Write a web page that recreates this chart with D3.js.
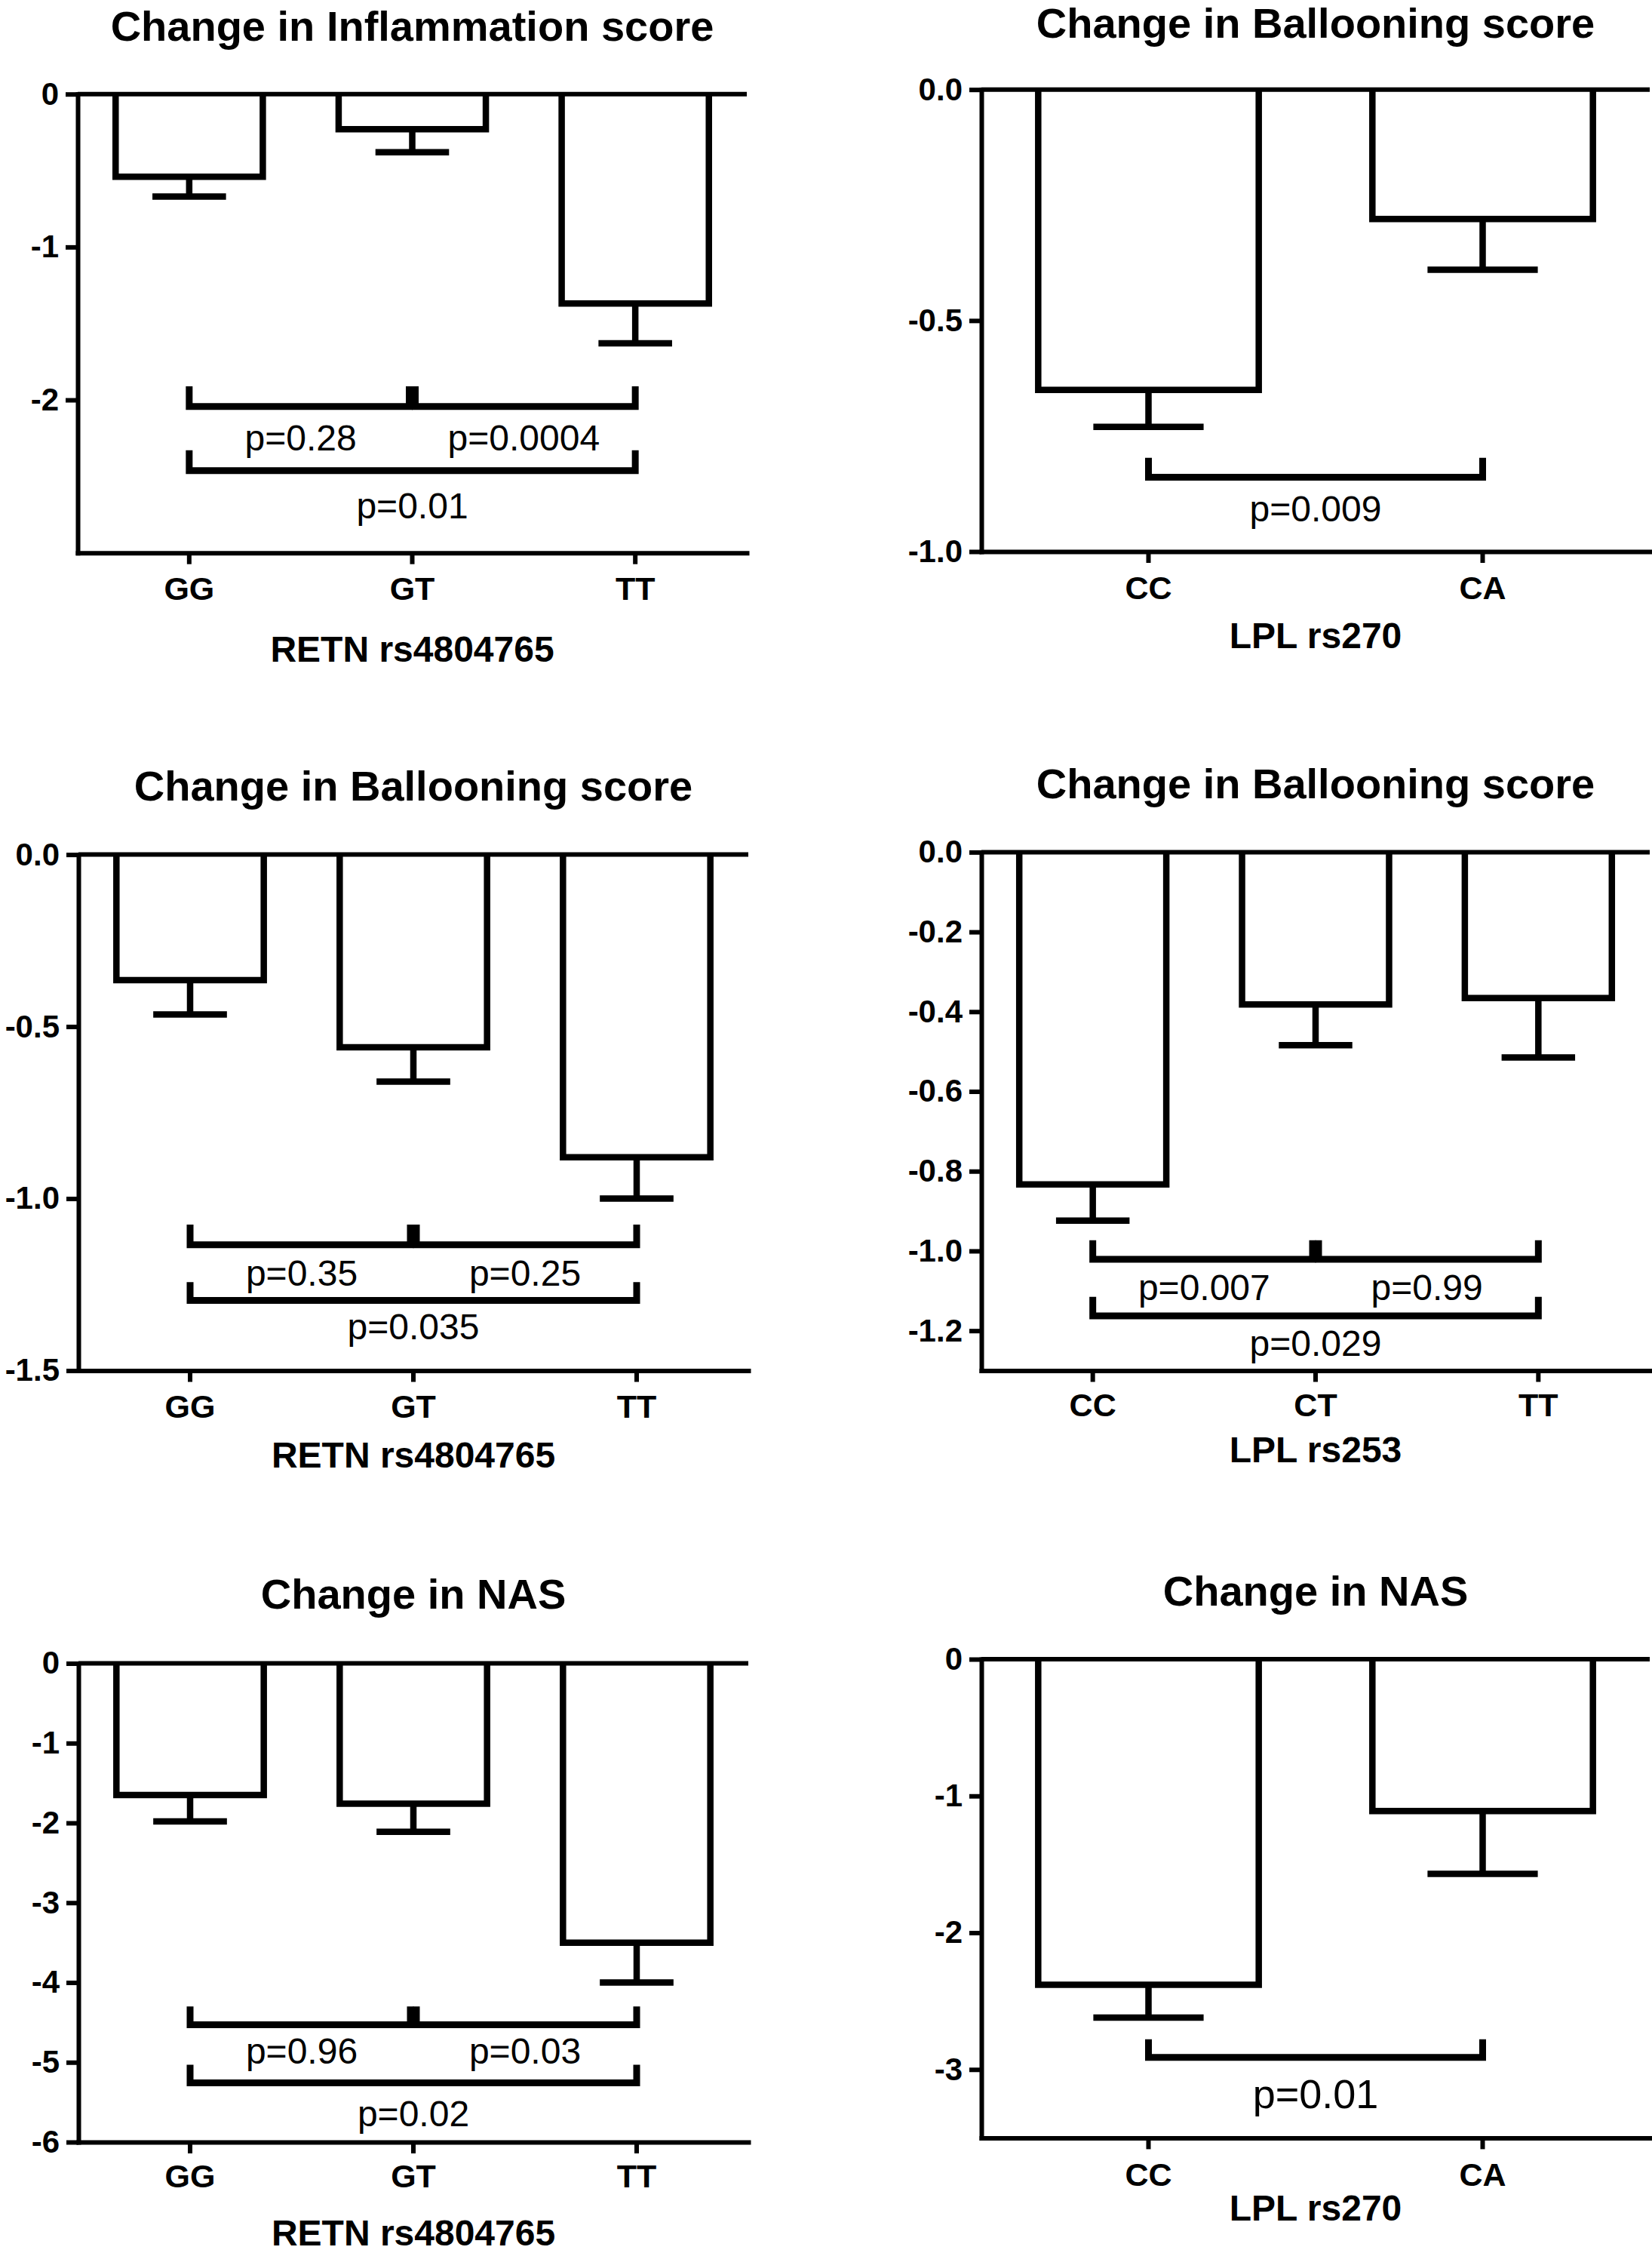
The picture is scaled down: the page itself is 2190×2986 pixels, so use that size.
<!DOCTYPE html>
<html>
<head>
<meta charset="utf-8">
<script src="https://cdn.jsdelivr.net/npm/d3@7"></script>
<style>
  html, body { margin: 0; padding: 0; background: #fff; }
  svg { display: block; }
</style>
</head>
<body>
<div id="chart"></div>
<script>
// Genotypes (categorias do eixo x)
const retnGenotypes = ['GG', 'GT', 'TT'];
const lplRs270Genotypes = ['CC', 'CA'];
const lplRs253Genotypes = ['CC', 'CT', 'TT'];

// Médias e erro padrão
const inflammationRetnMean = [-0.54, -0.23, -1.37];
const inflammationRetnSem = [0.13, 0.15, 0.26];

const ballooningRs270Mean = [-0.65, -0.28];
const ballooningRs270Sem = [0.08, 0.11];

const ballooningRetnMean = [-0.365, -0.56, -0.88];
const ballooningRetnSem = [0.10, 0.10, 0.12];

const ballooningRs253Mean = [-0.833, -0.382, -0.366];
const ballooningRs253Sem = [0.091, 0.102, 0.149];

const nasRetnMean = [-1.65, -1.76, -3.50];
const nasRetnSem = [0.33, 0.35, 0.50];

const nasRs270Mean = [-2.38, -1.11];
const nasRs270Sem = [0.24, 0.46];

// Ticks do eixo y
const inflammationTicks = [0, -1, -2];
const ballooningRs270Ticks = [0, -0.5, -1];
const ballooningRetnTicks = [0, -0.5, -1, -1.5];
const ballooningRs253Ticks = [0, -0.2, -0.4, -0.6, -0.8, -1.0, -1.2];
const nasRetnTicks = [0, -1, -2, -3, -4, -5, -6];
const nasRs270Ticks = [0, -1, -2, -3];

// Comparações e p-valores
const threeWayPairs = [['GG', 'GT'], ['GT', 'TT'], ['GG', 'TT']];
const rs253Pairs = [['CC', 'CT'], ['CT', 'TT'], ['CC', 'TT']];
const rs270Pairs = [['CC', 'CA']];

const inflammationRetnP = ['p=0.28', 'p=0.0004', 'p=0.01'];
const ballooningRs270P = ['p=0.009'];
const ballooningRetnP = ['p=0.35', 'p=0.25', 'p=0.035'];
const ballooningRs253P = ['p=0.007', 'p=0.99', 'p=0.029'];
const nasRetnP = ['p=0.96', 'p=0.03', 'p=0.02'];
const nasRs270P = ['p=0.01'];

const FONT = '"Liberation Sans", Arial, Helvetica, sans-serif';

// Layout de cada painel (px e níveis dos colchetes em unidades do eixo)
const panels = [
  { title: 'Change in Inflammation score', xTitle: 'RETN rs4804765',
    cats: retnGenotypes, mean: inflammationRetnMean, sem: inflammationRetnSem,
    domain: [-3, 0], ticks: inflammationTicks, digits: 0,
    x0: 103, x1: 990, yTop: 124.7, yBot: 732.7, titleY: 54, catY: 795, xTitleY: 877,
    pairs: threeWayPairs, pvals: inflammationRetnP,
    levels: [[-2.043, -1.911], [-2.043, -1.911], [-2.463, -2.329]],
    labelY: [-2.331, -2.331, -2.774], pSize: 48 },
  { title: 'Change in Ballooning score', xTitle: 'LPL rs270',
    cats: lplRs270Genotypes, mean: ballooningRs270Mean, sem: ballooningRs270Sem,
    domain: [-1, 0], ticks: ballooningRs270Ticks, digits: 1,
    x0: 1301, x1: 2187, yTop: 118.7, yBot: 731, titleY: 50, catY: 794, xTitleY: 859,
    pairs: rs270Pairs, pvals: ballooningRs270P,
    levels: [[-0.839, -0.797]], labelY: [-0.934], pSize: 48 },
  { title: 'Change in Ballooning score', xTitle: 'RETN rs4804765',
    cats: retnGenotypes, mean: ballooningRetnMean, sem: ballooningRetnSem,
    domain: [-1.5, 0], ticks: ballooningRetnTicks, digits: 1,
    x0: 104, x1: 992, yTop: 1132.6, yBot: 1816.5, titleY: 1061, catY: 1879, xTitleY: 1945,
    pairs: threeWayPairs, pvals: ballooningRetnP,
    levels: [[-1.134, -1.0755], [-1.134, -1.0755], [-1.296, -1.243]],
    labelY: [-1.254, -1.254, -1.409], pSize: 48 },
  { title: 'Change in Ballooning score', xTitle: 'LPL rs253',
    cats: lplRs253Genotypes, mean: ballooningRs253Mean, sem: ballooningRs253Sem,
    domain: [-1.3, 0], ticks: ballooningRs253Ticks, digits: 1,
    x0: 1301, x1: 2187, yTop: 1129.4, yBot: 1816.5, titleY: 1058, catY: 1877, xTitleY: 1938,
    pairs: rs253Pairs, pvals: ballooningRs253P,
    levels: [[-1.021, -0.973], [-1.021, -0.973], [-1.163, -1.115]],
    labelY: [-1.124, -1.124, -1.264], pSize: 48 },
  { title: 'Change in NAS', xTitle: 'RETN rs4804765',
    cats: retnGenotypes, mean: nasRetnMean, sem: nasRetnSem,
    domain: [-6, 0], ticks: nasRetnTicks, digits: 0,
    x0: 104, x1: 992, yTop: 2204.5, yBot: 2839, titleY: 2132, catY: 2899, xTitleY: 2976,
    pairs: threeWayPairs, pvals: nasRetnP,
    levels: [[-4.53, -4.30], [-4.53, -4.30], [-5.257, -5.03]],
    labelY: [-5.017, -5.017, -5.806], pSize: 48 },
  { title: 'Change in NAS', xTitle: 'LPL rs270',
    cats: lplRs270Genotypes, mean: nasRs270Mean, sem: nasRs270Sem,
    domain: [-3.5, 0], ticks: nasRs270Ticks, digits: 0,
    x0: 1301, x1: 2187, yTop: 2199, yBot: 2833.4, titleY: 2128, catY: 2897, xTitleY: 2943,
    pairs: rs270Pairs, pvals: nasRs270P,
    levels: [[-2.912, -2.779]], labelY: [-3.284], pSize: 54 }
];

const svg = d3.select('#chart')
  .append('svg')
  .attr('width', 2190)
  .attr('height', 2986)
  .attr('viewBox', '0 0 2190 2986');

// hífen simples como no original (d3 usa o sinal de menos unicode)
function makeFormat(digits) {
  return d => {
    const v = Math.abs(d).toFixed(digits);
    return (d < 0 ? '-' : '') + v;
  };
}

function drawPanel(p) {
  const g = svg.append('g');

  const x = d3.scaleBand()
    .domain(p.cats)
    .range([p.x0, p.x1])
    .paddingInner(0.34)
    .paddingOuter(0.17);

  const y = d3.scaleLinear()
    .domain(p.domain)
    .range([p.yBot, p.yTop]);

  const cx = c => x(c) + x.bandwidth() / 2;

  // Título
  g.append('text')
    .attr('x', (p.x0 + p.x1) / 2)
    .attr('y', p.titleY)
    .attr('text-anchor', 'middle')
    .attr('font-family', FONT)
    .attr('font-weight', 'bold')
    .attr('font-size', 56)
    .text(p.title);

  const rows = p.cats.map((c, i) => ({ cat: c, mean: p.mean[i], sem: p.sem[i] }));

  // Barras (contorno sem o lado de cima)
  g.selectAll('.bar')
    .data(rows)
    .enter()
    .append('path')
    .attr('class', 'bar')
    .attr('d', d => {
      const x0 = x(d.cat), x1 = x(d.cat) + x.bandwidth();
      return `M${x0},${y(0)}V${y(d.mean)}H${x1}V${y(0)}`;
    })
    .attr('fill', '#fff')
    .attr('stroke', '#000')
    .attr('stroke-width', 8.5)
    .attr('stroke-linejoin', 'miter');

  // Barras de erro (só para baixo)
  g.selectAll('.err')
    .data(rows)
    .enter()
    .append('path')
    .attr('class', 'err')
    .attr('d', d => {
      const c = cx(d.cat), w = x.bandwidth() / 4;
      return `M${c},${y(d.mean)}V${y(d.mean - d.sem)}M${c - w},${y(d.mean - d.sem)}H${c + w}`;
    })
    .attr('fill', 'none')
    .attr('stroke', '#000')
    .attr('stroke-width', 8.5);

  // Linha do zero
  g.append('line')
    .attr('x1', p.x0).attr('x2', p.x1)
    .attr('y1', y(0)).attr('y2', y(0))
    .attr('stroke', '#000')
    .attr('stroke-width', 6);

  // Eixo y
  const yAxis = g.append('g')
    .attr('transform', `translate(${p.x0},0)`)
    .call(d3.axisLeft(y)
      .tickValues(p.ticks)
      .tickFormat(makeFormat(p.digits))
      .tickSize(16)
      .tickSizeOuter(0)
      .tickPadding(9))
    .attr('font-family', FONT)
    .attr('font-size', 42)
    .attr('font-weight', 'bold');
  yAxis.select('.domain').attr('stroke-width', 6).attr('stroke-linecap', 'square');
  yAxis.selectAll('.tick line').attr('stroke-width', 6);
  yAxis.selectAll('.tick text').attr('fill', '#000');

  // Eixo x
  const xAxis = g.append('g')
    .attr('transform', `translate(0,${p.yBot})`)
    .call(d3.axisBottom(x).tickSize(15).tickSizeOuter(0))
    .attr('font-family', FONT)
    .attr('font-size', 43)
    .attr('font-weight', 'bold');
  xAxis.select('.domain').attr('stroke-width', 6).attr('stroke-linecap', 'square');
  xAxis.selectAll('.tick line').attr('stroke-width', 6);
  xAxis.selectAll('.tick text')
    .attr('y', p.catY - p.yBot)
    .attr('dy', 0)
    .attr('fill', '#000');

  // Título do eixo x
  g.append('text')
    .attr('x', (p.x0 + p.x1) / 2)
    .attr('y', p.xTitleY)
    .attr('text-anchor', 'middle')
    .attr('font-family', FONT)
    .attr('font-weight', 'bold')
    .attr('font-size', 48)
    .text(p.xTitle);

  // Colchetes de comparação + p-valores
  const shared = (cat, idx) => p.pairs.some((q, j) => j !== idx &&
    p.levels[j][0] === p.levels[idx][0] && (q[0] === cat || q[1] === cat));

  p.pairs.forEach((pair, i) => {
    const [a, b] = pair;
    const xa = cx(a) + (shared(a, i) ? 4 : 0);
    const xb = cx(b) - (shared(b, i) ? 4 : 0);
    const yl = y(p.levels[i][0]);
    const yt = y(p.levels[i][1]);

    g.append('path')
      .attr('d', `M${xa},${yt}V${yl}H${xb}V${yt}`)
      .attr('fill', 'none')
      .attr('stroke', '#000')
      .attr('stroke-width', 9)
      .attr('stroke-linejoin', 'miter');

    g.append('text')
      .attr('x', (cx(a) + cx(b)) / 2)
      .attr('y', y(p.labelY[i]))
      .attr('text-anchor', 'middle')
      .attr('font-family', FONT)
      .attr('font-size', p.pSize)
      .text(p.pvals[i]);
  });
}

panels.forEach(drawPanel);
</script>
</body>
</html>
